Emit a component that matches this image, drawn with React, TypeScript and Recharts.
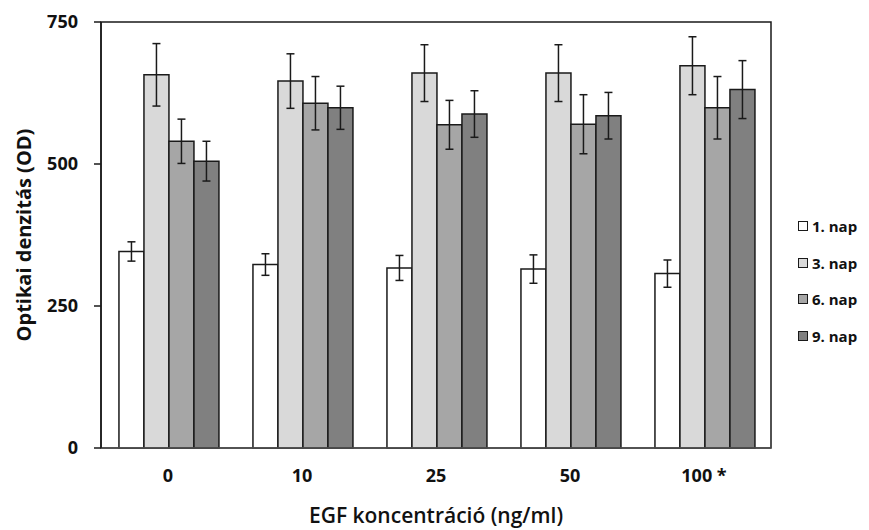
import {
  Bar,
  BarChart,
  ErrorBar,
  Legend,
  ReferenceArea,
  XAxis,
  YAxis,
} from 'recharts'

const categories = ['0', '10', '25', '50', '100 *']
const nap1 = [346, 323, 317, 315, 307]
const nap1Err = [17, 19, 22, 25, 24]
const nap3 = [657, 646, 660, 660, 673]
const nap3Err = [55, 48, 50, 50, 51]
const nap6 = [540, 607, 569, 570, 599]
const nap6Err = [39, 47, 43, 52, 55]
const nap9 = [505, 599, 588, 585, 631]
const nap9Err = [35, 38, 41, 41, 51]
const yTicks = [0, 250, 500, 750]

const series = [
  { key: 'nap1', name: '1. nap', fill: '#ffffff' },
  { key: 'nap3', name: '3. nap', fill: '#d9d9d9' },
  { key: 'nap6', name: '6. nap', fill: '#a6a6a6' },
  { key: 'nap9', name: '9. nap', fill: '#808080' },
]

const data = categories.map((c, i) => ({
  conc: c,
  nap1: nap1[i],
  nap1Err: nap1Err[i],
  nap3: nap3[i],
  nap3Err: nap3Err[i],
  nap6: nap6[i],
  nap6Err: nap6Err[i],
  nap9: nap9[i],
  nap9Err: nap9Err[i],
}))

const font = '"Open Sans", Lato, sans-serif'
const ink = '#1a1a1a'

function LegendBox() {
  return (
    <div style={{ fontFamily: font, fontWeight: 700, fontSize: 15, color: '#111' }}>
      {series.map((s) => (
        <div
          key={s.key}
          style={{ display: 'flex', alignItems: 'center', height: 36.5 }}
        >
          <span
            style={{
              display: 'inline-block',
              width: 8,
              height: 8,
              background: s.fill,
              border: `1.5px solid ${ink}`,
              marginRight: 4,
            }}
          />
          {s.name}
        </div>
      ))}
    </div>
  )
}

export default function App() {
  return (
    <div style={{ position: 'absolute', left: 0, top: 0, background: '#fff' }}>
      <BarChart
        width={869}
        height={530}
        data={data}
        margin={{ top: 22, right: 98, bottom: 0, left: 0 }}
        barCategoryGap="13.4%"
        barGap={0}
      >
        <ReferenceArea
          y1={0}
          y2={750}
          fill="none"
          stroke={ink}
          strokeWidth={1.5}
          ifOverflow="visible"
        />
        <XAxis
          dataKey="conc"
          height={82}
          tickSize={0}
          tickMargin={21}
          axisLine={{ stroke: '#555', strokeWidth: 1.5 }}
          tick={{ fill: '#111', fontSize: 18, fontWeight: 700, fontFamily: font }}
          label={{
            value: 'EGF koncentráció (ng/ml)',
            position: 'insideBottom',
            offset: 7,
            fill: '#111',
            fontSize: 21,
            fontWeight: 600,
            fontFamily: font,
          }}
        />
        <YAxis
          domain={[0, 750]}
          ticks={yTicks}
          width={101}
          tickSize={7}
          tickMargin={16}
          axisLine={{ stroke: ink, strokeWidth: 1.5 }}
          tickLine={{ stroke: ink, strokeWidth: 1.5 }}
          tick={{ fill: '#111', fontSize: 18, fontWeight: 700, fontFamily: font }}
          label={{
            value: 'Optikai denzitás (OD)',
            angle: -90,
            position: 'center',
            dx: -27,
            fill: '#111',
            fontSize: 20,
            fontWeight: 700,
            fontFamily: font,
          }}
        />
        <Legend
          layout="vertical"
          align="center"
          verticalAlign="middle"
          content={<LegendBox />}
          wrapperStyle={{ left: 798, top: 208, width: 71 }}
        />
        {series.map((s) => (
          <Bar
            key={s.key}
            dataKey={s.key}
            name={s.name}
            fill={s.fill}
            stroke={ink}
            strokeWidth={1.5}
            isAnimationActive={false}
          >
            <ErrorBar
              dataKey={`${s.key}Err`}
              width={4}
              stroke={ink}
              strokeWidth={1.5}
              direction="y"
            />
          </Bar>
        ))}
      </BarChart>
    </div>
  )
}
